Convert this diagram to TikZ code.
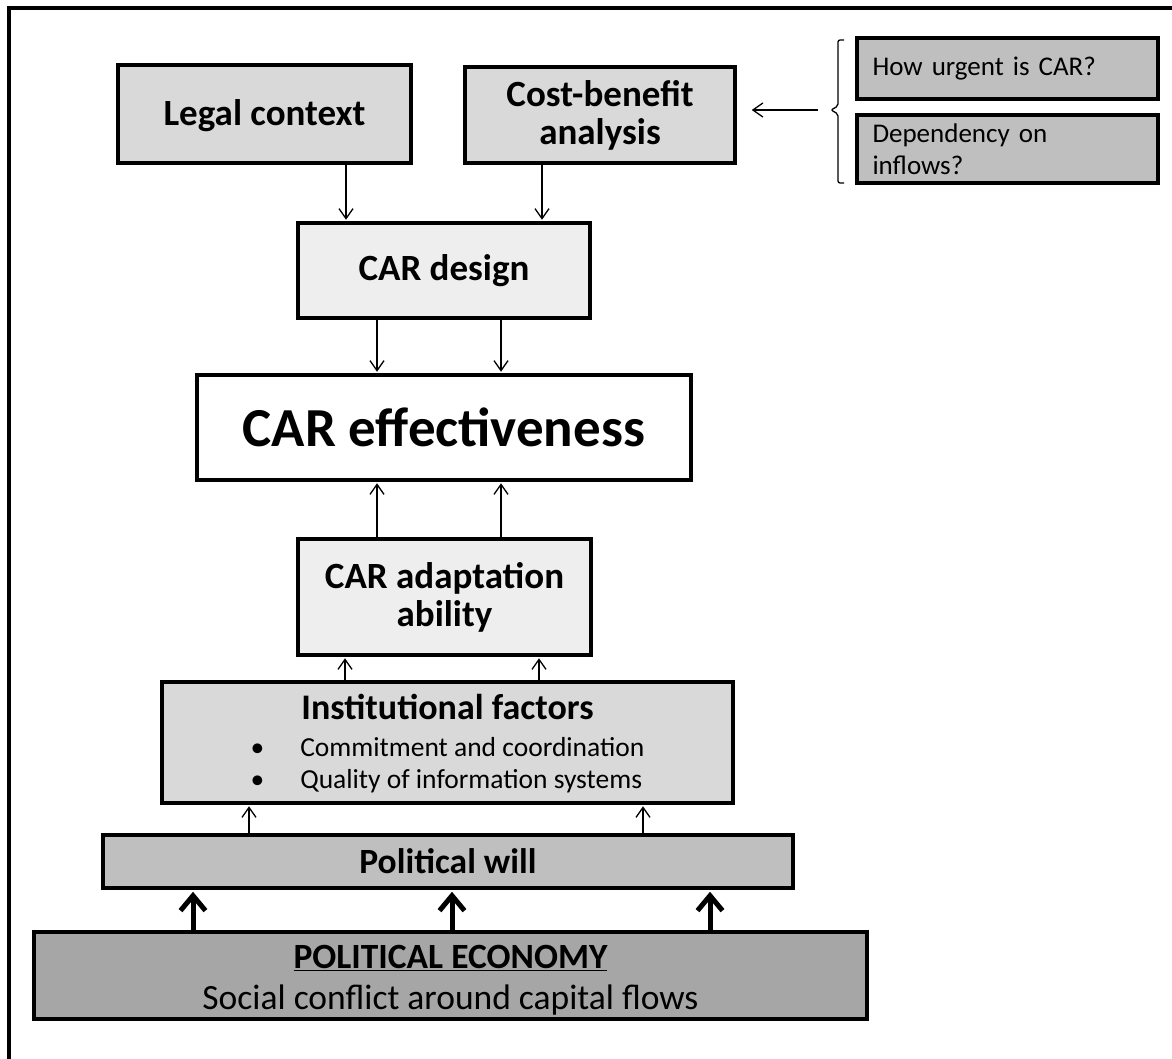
\documentclass[tikz,border=0pt]{standalone}
\usepackage{fontspec}
\setmainfont{Carlito}
\usetikzlibrary{arrows.meta}
\definecolor{gA}{HTML}{D9D9D9}
\definecolor{gB}{HTML}{EEEEEE}
\definecolor{gC}{HTML}{BFBFBF}
\definecolor{gD}{HTML}{A6A6A6}
\newcommand\fsBold{\fontsize{37}{38}\selectfont\bfseries}
\newcommand\fsHuge{\fontsize{55}{60}\selectfont\bfseries}
\newcommand\fsBul{\fontsize{27.5}{32}\selectfont}
\newcommand\fsSmall{\fontsize{27}{32}\selectfont}
\newcommand\fsMid{\fontsize{35.5}{42}\selectfont}
\begin{document}
\begin{tikzpicture}[x=1pt,y=-1pt,
  box/.style={draw, line width=3.5pt, inner sep=0pt, align=center},
  thinarr/.style={line width=1.3pt, -{Straight Barb[length=10pt,width=14pt,line width=1.3pt]}},
  thickarr/.style={line width=5pt, -{Straight Barb[length=15pt,width=25pt,line width=5pt]}}]
\useasboundingbox (0,0) rectangle (1172,1059);
\fill[white] (0,0) rectangle (1172,1059);
\draw[line width=4pt] (9,1080) -- (9,8) -- (1190,8);

% top row
\node[box, fill=gA, minimum width=293pt, minimum height=98pt, font=\fsBold] (legal) at (264.5,114) {\raisebox{-2pt}[\height][\depth]{Legal context}};
\node[box, fill=gA, minimum width=270pt, minimum height=96pt, font=\fsBold] (cb) at (600,115) {Cost-benefit\\analysis};
\node[box, fill=gC, minimum width=301pt, minimum height=61pt, text width=270pt, align=left, font=\fsSmall] (urgent) at (1007.5,68.5) {How urgent is CAR?};
\node[box, fill=gC, minimum width=301pt, minimum height=68pt, text width=270pt, align=left, font=\fsSmall] (dep) at (1007.5,149) {Dependency on\\inflows?};

% brace
\coordinate (bracetip) at (831,110);
\draw[line width=1.3pt, rounded corners=2pt] (844,40) -- (838,40) -- (838,106) -- (bracetip) -- (838,114) -- (838,183) -- (844,183);
\draw[thinarr, shorten <=13pt, shorten >=15pt] (bracetip) -- (cb.east |- bracetip);

% middle
\node[box, fill=gB, minimum width=292pt, minimum height=95pt, font=\fsBold] (design) at (444,270.5) {CAR design};
\node[box, fill=white, minimum width=494pt, minimum height=105pt, font=\fsHuge] (eff) at (444,427.5) {CAR effectiveness};
\node[box, fill=gB, minimum width=293pt, minimum height=116pt, font=\fsBold] (adapt) at (444.5,597) {CAR adaptation\\ability};
\node[box, fill=gA, minimum width=571pt, minimum height=121pt, font=\fsBul] (inst) at (447.5,742.5)
  {\raisebox{-4pt}[\height][\depth]{\begin{tabular}{@{}c@{}}{\fontsize{36}{40}\selectfont\bfseries Institutional factors}\\[5pt]
   \begin{tabular}{@{}l@{\hspace{36pt}}l@{}}\textbullet & Commitment and coordination\\ \textbullet & Quality of information systems\end{tabular}\end{tabular}}};
\node[box, fill=gC, minimum width=690pt, minimum height=53pt, font=\fsMid\bfseries] (will) at (448,861.5) {Political will};
\node[box, fill=gD, minimum width=833pt, minimum height=87pt, font=\fsMid] (pe) at (450.5,975.5)
  {\raisebox{-5pt}[\height][\depth]{\begin{tabular}{@{}c@{}}{\bfseries\underline{POLITICAL ECONOMY}}\\[-1pt]Social conflict around capital flows\end{tabular}}};

% connectors
\coordinate (xa) at (346,0);
\coordinate (xb) at (542,0);
\draw[thinarr, shorten >=1.5pt] (legal.south -| xa) -- (design.north -| xa);
\draw[thinarr, shorten >=1.5pt] (cb.south -| xb) -- (design.north -| xb);
\coordinate (xc) at (377,0);
\coordinate (xd) at (501,0);
\draw[thinarr, shorten >=1.5pt] (design.south -| xc) -- (eff.north -| xc);
\draw[thinarr, shorten >=1.5pt] (design.south -| xd) -- (eff.north -| xd);
\draw[thinarr, shorten >=1.5pt] (adapt.north -| xc) -- (eff.south -| xc);
\draw[thinarr, shorten >=1.5pt] (adapt.north -| xd) -- (eff.south -| xd);
\coordinate (xe) at (345,0);
\coordinate (xf) at (539,0);
\draw[thinarr, shorten >=1.5pt] (inst.north -| xe) -- (adapt.south -| xe);
\draw[thinarr, shorten >=1.5pt] (inst.north -| xf) -- (adapt.south -| xf);
\coordinate (xg) at (249,0);
\coordinate (xh) at (643,0);
\draw[thinarr, shorten >=1.5pt] (will.north -| xg) -- (inst.south -| xg);
\draw[thinarr, shorten >=1.5pt] (will.north -| xh) -- (inst.south -| xh);
\coordinate (xi) at (193,0);
\coordinate (xj) at (452,0);
\coordinate (xk) at (710,0);
\draw[thickarr, shorten >=2pt] (pe.north -| xi) -- (will.south -| xi);
\draw[thickarr, shorten >=2pt] (pe.north -| xj) -- (will.south -| xj);
\draw[thickarr, shorten >=2pt] (pe.north -| xk) -- (will.south -| xk);
\end{tikzpicture}
\end{document}
